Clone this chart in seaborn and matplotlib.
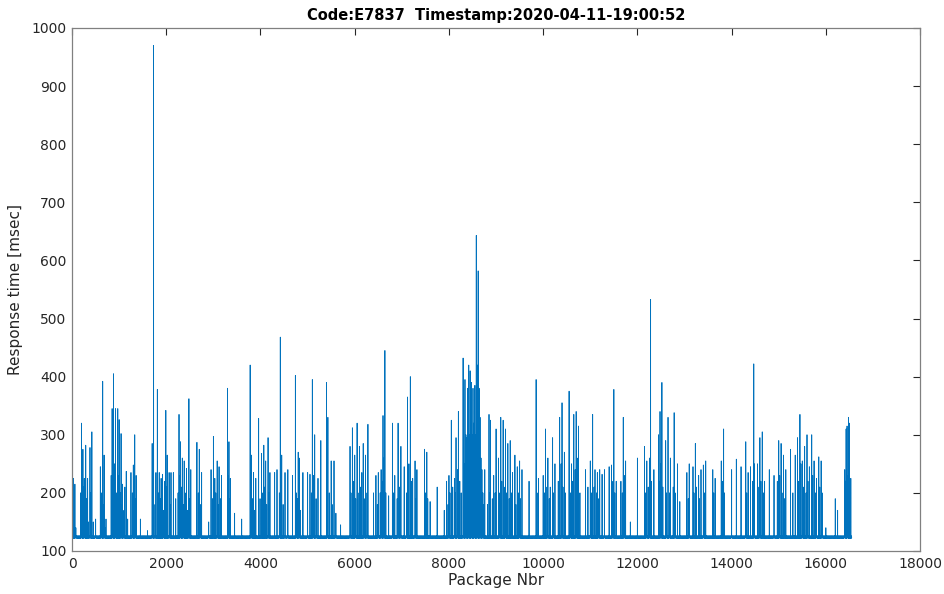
import numpy as np
import pandas as pd
import matplotlib
matplotlib.use("Agg")
import matplotlib.pyplot as plt
import seaborn as sns

# number of packages and the quiet-level response time
n_packages = 16550
baseline_levels = [124, 123, 125, 124, 126, 123, 124, 125, 122, 124, 125, 123]

# main spikes: package number and response time in msec
spike_pos = [10, 30, 60, 200, 230, 260, 290, 330, 380, 420, 450, 500,
             600, 650, 680, 720, 850, 880, 920, 970, 1000, 1040, 1070, 1120, 1150, 1180,
             1250, 1300, 1330, 1360, 1450, 1600,
             1700, 1730, 1780, 1810, 1850, 1890, 1920, 1960, 1990, 2020, 2060, 2100,
             2150, 2200, 2270, 2300, 2340, 2380, 2430, 2480, 2520,
             2650, 2700, 2750, 2900, 2950, 3000, 3030, 3080, 3120, 3170,
             3300, 3330, 3360, 3450, 3600, 3780, 3810, 3850, 3900,
             3960, 4020, 4070, 4110, 4160, 4200,
             4300, 4350, 4420, 4450, 4520, 4580, 4680, 4740, 4800, 4820, 4900,
             5000, 5050, 5100, 5150, 5220, 5280, 5400, 5430, 5500, 5560, 5600, 5700,
             5900, 5950, 6000, 6050, 6100, 6150, 6180, 6230, 6280,
             6400, 6450, 6500, 6560, 6600, 6640, 6720, 6800, 6850, 6920, 6980, 7050,
             7120, 7180, 7230, 7280, 7320, 7480, 7530, 7600,
             7750, 7900, 7950, 8000, 8050, 8120, 8150, 8200,
             8300, 8340, 8380, 8400, 8420, 8450, 8480, 8510, 8550, 8580, 8600, 8620,
             8640, 8660, 8700, 8760, 8850, 8880, 8950, 9000,
             9050, 9100, 9150, 9200, 9250, 9300, 9350, 9400, 9450, 9500, 9550,
             9700, 9850, 9900, 10000, 10050, 10100, 10150, 10200, 10250, 10350, 10400, 10450,
             10550, 10600, 10650, 10700, 10750, 10900, 10950, 11000, 11050, 11100, 11150,
             11200, 11250, 11300, 11400, 11450, 11500, 11550, 11650, 11700, 11750, 11850,
             12000, 12150, 12200, 12280, 12350, 12450, 12480, 12520, 12600, 12650, 12700,
             12780, 12850, 12900, 13050, 13100, 13180, 13230, 13300, 13350, 13400, 13450,
             13600, 13650, 13780, 13830,
             14000, 14100, 14200, 14300, 14350, 14400, 14470, 14550, 14600, 14650, 14700,
             14800, 14900, 15000, 15050, 15100, 15150, 15250, 15350, 15400, 15450, 15500,
             15550, 15600, 15650, 15700, 15750, 15800, 15850, 15900, 16000, 16200, 16250,
             16400, 16430, 16450, 16480, 16500, 16530]
spike_val = [235, 225, 215, 320, 275, 225, 282, 225, 278, 305, 150, 155,
             245, 392, 265, 155, 345, 405, 345, 345, 326, 302, 215, 210, 237, 155,
             235, 248, 300, 230, 155, 135,
             285, 970, 235, 378, 235, 225, 232, 220, 342, 265, 235, 235,
             235, 190, 335, 288, 260, 255, 242, 362, 240,
             287, 275, 235, 150, 240, 297, 225, 255, 245, 230,
             380, 288, 225, 165, 155, 420, 265, 235, 225,
             328, 268, 282, 255, 295, 235,
             235, 240, 468, 265, 235, 240, 230, 402, 270, 260, 235,
             235, 232, 395, 300, 225, 290, 390, 330, 255, 255, 165, 145,
             280, 312, 265, 320, 280, 235, 285, 265, 318,
             200, 230, 235, 240, 333, 445, 195, 320, 230, 320, 280, 245,
             365, 400, 225, 255, 240, 275, 270, 185,
             210, 170, 220, 230, 325, 225, 295, 340,
             432, 395, 295, 380, 420, 410, 390, 380, 385, 643, 420, 582,
             380, 330, 240, 240, 335, 325, 230, 310,
             260, 330, 325, 310, 285, 290, 235, 265, 245, 255, 240,
             220, 395, 225, 230, 310, 260, 210, 295, 250, 330, 355, 270,
             375, 250, 335, 340, 315, 240, 210, 255, 335, 240, 235,
             240, 232, 240, 245, 248, 378, 220, 220, 330, 255, 150,
             260, 280, 255, 533, 240, 300, 340, 390, 290, 330, 260,
             338, 250, 185, 235, 250, 245, 285, 230, 240, 248, 255,
             240, 225, 255, 310,
             240, 258, 245, 288, 235, 245, 422, 250, 295, 305, 220,
             240, 230, 290, 285, 265, 240, 275, 265, 295, 335, 255,
             280, 300, 245, 300, 255, 225, 262, 255, 140, 190, 170,
             240, 310, 315, 330, 320, 225]

# smaller spikes that fill the busy clusters
minor_pos = [40, 80, 180, 240, 270, 310, 350, 400, 620, 660, 700, 830, 860, 900, 940,
             990, 1020, 1060, 1100, 1280, 1310, 1340, 1710, 1760, 1830, 1870, 1940, 2010, 2080,
             2250, 2290, 2320, 2360, 2400, 2450, 2500, 2680, 2720, 2980, 3050, 3100, 3150,
             3320, 3340, 3800, 3830, 3870, 3990, 4050, 4090, 4130, 4180,
             4400, 4440, 4480, 4760, 4780, 4850, 5080, 5120, 5180, 5420, 5460, 5520,
             5920, 5970, 6020, 6070, 6120, 6200, 6260,
             6480, 6540, 6580, 6620, 6660, 6820, 6900, 6950, 7100, 7150, 7200, 7300,
             7500, 7550, 7980, 8020, 8080, 8130, 8180, 8230, 8260,
             8310, 8330, 8360, 8390, 8410, 8430, 8440, 8460, 8470, 8490, 8500, 8520,
             8530, 8540, 8560, 8570, 8590, 8610, 8630, 8650, 8670, 8680, 8690, 8720,
             8740, 8820, 8870, 8920, 8980,
             9080, 9120, 9170, 9220, 9280, 9330, 9420, 9480, 9520, 9870, 10030, 10080,
             10130, 10220, 10320, 10380, 10420, 10470,
             10580, 10620, 10680, 10720, 10780, 11030, 11080, 11130, 11180, 11480, 11520,
             11680, 11720,
             12170, 12230, 12260, 12300, 12460, 12500, 12540, 12620, 12680, 12760, 12800,
             13080, 13200, 13250, 13320, 13420, 13620, 13800, 13850,
             14320, 14450, 14480, 14580, 14620, 14680, 14970, 15020, 15070, 15120, 15300,
             15420, 15470, 15520, 15580, 15620, 15720, 15780, 15870, 15920,
             16420, 16460, 16490, 16510]
minor_val = [180, 140, 200, 210, 160, 190, 150, 200, 200, 180, 140, 230, 280, 250, 200,
             230, 200, 180, 170, 200, 220, 190, 200, 180, 200, 190, 170, 210, 180,
             200, 230, 210, 180, 200, 170, 190, 200, 180, 190, 200, 180, 190,
             230, 190, 210, 190, 170, 190, 200, 210, 180, 200,
             200, 210, 180, 200, 190, 170, 200, 230, 190, 250, 200, 180,
             200, 220, 190, 200, 210, 190, 200,
             180, 200, 220, 260, 200, 200, 190, 210, 200, 250, 220, 190,
             200, 190, 180, 200, 210, 200, 240, 220, 200,
             280, 250, 300, 260, 320, 280, 300, 250, 340, 280, 300, 260,
             320, 280, 300, 260, 350, 300, 280, 250, 230, 260, 210, 200,
             180, 180, 200, 190, 200,
             200, 220, 210, 200, 190, 200, 180, 200, 190, 200, 200, 210,
             190, 200, 220, 250, 210, 200,
             200, 220, 240, 260, 200, 200, 210, 200, 190, 220, 200,
             200, 230,
             200, 210, 260, 220, 220, 250, 210, 200, 200, 210, 200,
             190, 200, 210, 190, 200, 200, 220, 200,
             200, 220, 250, 210, 220, 200, 220, 230, 200, 190, 200,
             220, 250, 210, 200, 220, 230, 200, 210, 200,
             220, 230, 210, 200]

x_ticks = [0, 2000, 4000, 6000, 8000, 10000, 12000, 14000, 16000, 18000]
y_ticks = [100, 200, 300, 400, 500, 600, 700, 800, 900, 1000]

# build the series
resp = np.resize(np.array(baseline_levels, dtype=float), n_packages)
resp[minor_pos] = minor_val
resp[spike_pos] = spike_val
df = pd.DataFrame({"Package Nbr": np.arange(1, n_packages + 1), "resp": resp})

sns.set_style("white")
plt.rcParams["font.family"] = ["DejaVu Sans"]

fig = plt.figure(figsize=(9.44, 5.94), dpi=100)
ax = fig.add_axes([0.0763, 0.0724, 0.8983, 0.8805])
sns.lineplot(data=df, x="Package Nbr", y="resp", estimator=None, ax=ax,
             color="#0072BD", linewidth=0.6)

ax.set_xlim(0, 18000)
ax.set_ylim(100, 1000)
ax.set_xticks(x_ticks)
ax.set_yticks(y_ticks)
ax.tick_params(axis="both", direction="in", length=5, width=0.8, colors="#262626",
               labelsize=10, top=True, right=True, pad=4)
for sp in ax.spines.values():
    sp.set_color("#808080")
    sp.set_linewidth(0.9)
    sp.set_visible(True)

ax.set_xlabel("Package Nbr", fontsize=11, color="#262626", labelpad=2)
ax.set_ylabel("Response time [msec]", fontsize=11, color="#262626", labelpad=6)
ax.set_title("Code:E7837  Timestamp:2020-04-11-19:00:52", fontsize=10.5,
             fontweight="bold", color="black", pad=6)

fig.savefig("out.png", dpi=100)
